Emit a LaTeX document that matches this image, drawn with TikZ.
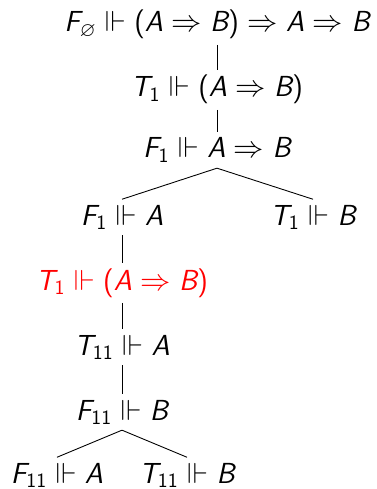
\documentclass[tikz,border=0pt]{standalone}
\usepackage{amsmath,amssymb}
\usepackage{tikz}
\usetikzlibrary{positioning}
\definecolor{closed}{HTML}{FF0000}
% sans letters as in a beamer slide
\newcommand{\sv}[1]{\text{\sffamily\slshape #1}}
\newcommand{\sn}[1]{\text{\sffamily #1}}
\newcommand{\lp}{\text{\sffamily(}}
\newcommand{\rp}{\text{\sffamily)}}
\newcommand{\imp}{\sv{A}\Rightarrow\sv{B}}
\tikzset{
  tnode/.style={inner sep=3pt, anchor=base, font=\fontsize{16.5}{19}\selectfont},
  rednode/.style={tnode, text=closed},
  edge/.style={line width=0.5pt, draw=black}
}
\begin{document}
\begin{tikzpicture}[x=0.02cm, y=-0.02cm]
    \useasboundingbox (0,0) rectangle (376,489);
    \node[tnode] (root) at (217,32) {$\sv{F}_{\varnothing}\Vdash\lp\imp\rp\Rightarrow\imp$};
    \node[tnode] (tImp) at (217,97) {$\sv{T}_{\sn{1}}\Vdash\lp\imp\rp$};
    \node[tnode] (fImp) at (217,158) {$\sv{F}_{\sn{1}}\Vdash\imp$};
    \node[tnode] (fA) at (122,225) {$\sv{F}_{\sn{1}}\Vdash\sv{A}$};
    \node[tnode] (tB) at (313,225) {$\sv{T}_{\sn{1}}\Vdash\sv{B}$};
    \node[rednode] (tImpR) at (122,290) {$\sv{T}_{\sn{1}}\Vdash\lp\imp\rp$};
    \node[tnode] (tAA) at (122,355) {$\sv{T}_{\sn{11}}\Vdash\sv{A}$};
    \node[tnode] (fBB) at (122,420) {$\sv{F}_{\sn{11}}\Vdash\sv{B}$};
    \node[tnode] (fAA) at (57,483) {$\sv{F}_{\sn{11}}\Vdash\sv{A}$};
    \node[tnode] (tBB) at (187,483) {$\sv{T}_{\sn{11}}\Vdash\sv{B}$};
    \draw[edge] (root.south) -- (tImp.north);
    \draw[edge] (tImp.south) -- (fImp.north);
    \draw[edge] (fImp.south) -- (fA.north);
    \draw[edge] (fImp.south) -- (tB.north);
    \draw[edge] (fA.south) -- (tImpR.north);
    \draw[edge] (tImpR.south) -- (tAA.north);
    \draw[edge] (tAA.south) -- (fBB.north);
    \draw[edge] (fBB.south) -- (fAA.north);
    \draw[edge] (fBB.south) -- (tBB.north);
\end{tikzpicture}
\end{document}
